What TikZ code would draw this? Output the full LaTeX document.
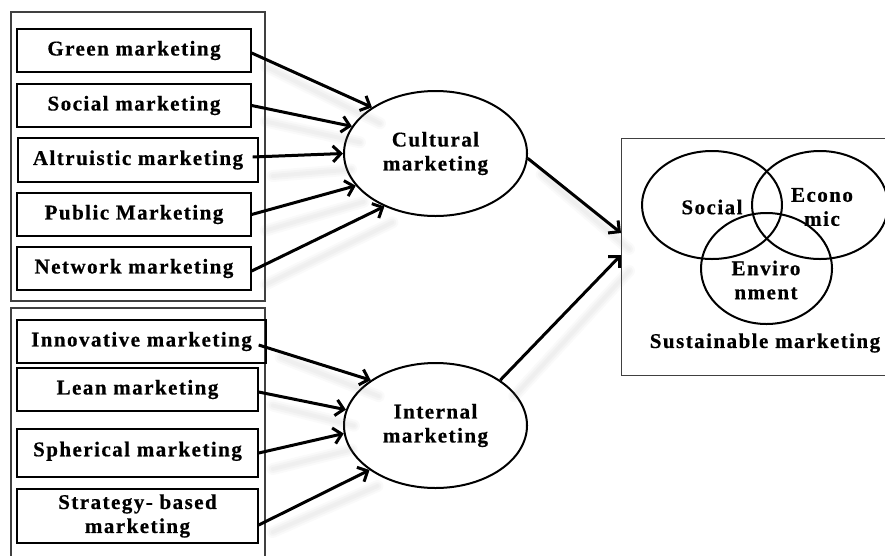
\documentclass[tikz,border=0pt]{standalone}
\usepackage{fontspec}
\setmainfont{Liberation Serif}[LetterSpace=7, BoldFeatures={FakeBold=0.6}]
\usetikzlibrary{arrows.meta,shapes.geometric,calc}
\begin{document}
\begin{tikzpicture}[x=1pt,y=-1pt,
  every node/.style={font=\bfseries\fontsize{21}{24}\selectfont, inner sep=0pt, align=center},
  outerbox/.style={draw=black!75, line width=1.1pt},
  itembox/.style={draw=black, line width=1.4pt},
  oval/.style={draw=black, line width=2pt, ellipse},
  conn/.style={line width=3pt, -{Straight Barb[length=8pt,width=16pt,line width=3pt]}},
  shade/.style={line cap=round, gray, opacity=0.045},
]
\useasboundingbox (0,0) rectangle (885,555);
% outer group boxes
\draw[outerbox] (11,12) rectangle (265,301);
\draw[outerbox] (11,308) rectangle (265,560);
% sustainable box
\node[outerbox, minimum width=270, minimum height=237, anchor=north west] (sus) at (621,138) {};
% items group 1
\node[itembox, minimum width=234, minimum height=43] (green) at (134,50.5) {Green marketing};
\node[itembox, minimum width=234, minimum height=43] (social) at (134,105.5) {Social marketing};
\node[itembox, minimum width=240, minimum height=44] (altru) at (138,160) {Altruistic marketing};
\node[itembox, minimum width=234, minimum height=43] (public) at (134,214.5) {Public Marketing};
\node[itembox, minimum width=234, minimum height=43] (network) at (134,268.5) {Network marketing};
% items group 2
\node[itembox, minimum width=249, minimum height=43] (innov) at (141.5,341.5) {Innovative marketing};
\node[itembox, minimum width=241, minimum height=43] (lean) at (137.5,389.5) {Lean marketing};
\node[itembox, minimum width=241, minimum height=48] (spher) at (137.5,453) {\raisebox{8pt}{Spherical marketing}};
\node[itembox, minimum width=241, minimum height=54] (strat) at (137.5,516) {Strategy- based\\marketing};
% ellipses
\node[oval, minimum width=183, minimum height=125] (cult) at (435.5,153.5) {Cultural\\marketing};
\node[oval, minimum width=183, minimum height=125] (intern) at (435.5,425.5) {Internal\\marketing};
% venn
\node[oval, minimum width=140, minimum height=108] (vsoc) at (712,205) {};
\node[oval, minimum width=136, minimum height=108] (veco) at (820,205) {};
\node[oval, minimum width=131, minimum height=111] (venv) at (766.5,268.5) {};
\node (tsoc) at (712,207) {Social};
\node (teco) at (822,207) {Econo\\mic};
\node (tenv) at (766,280) {Enviro\\nment};
\node (tsus) at (765,343) {Sustainable marketing};
\coordinate (in1) at (621,233);
\coordinate (in2) at (621,255);
% shadows
\foreach \a/\b in {green.east/cult.144.6, social.east/cult.162, altru.east/cult.180, public.east/cult.202.6, network.east/cult.226.6,
  innov.east/intern.145, lean.east/intern.170.5, spher.east/intern.185.9, strat.east/intern.214.6, cult.-3/in1, intern.35.5/in2} {
  \foreach \w in {12,8,4} {
    \draw[shade, line width=\w pt] ($(\a)+(14,16)$) -- ($(\b)+(8,16)$);
  }
}
% connectors
\draw[conn] ([yshift=-2.5pt]green.east) -- (cult.144.6);
\draw[conn] (social.east) -- (cult.162);
\draw[conn] ([xshift=-6pt,yshift=3pt]altru.east) -- (cult.180);
\draw[conn] (public.east) -- (cult.202.6);
\draw[conn] ([yshift=-2.5pt]network.east) -- (cult.226.6);
\draw[conn] ([xshift=-8pt,yshift=-3.5pt]innov.east) -- (intern.145);
\draw[conn] ([yshift=-2.5pt]lean.east) -- (intern.170.5);
\draw[conn] (spher.east) -- (intern.185.9);
\draw[conn] ([yshift=-9pt]strat.east) -- (intern.214.6);
\draw[conn] (cult.-3) -- (in1);
\draw[conn] (intern.35.5) -- (in2);
\end{tikzpicture}
\end{document}
